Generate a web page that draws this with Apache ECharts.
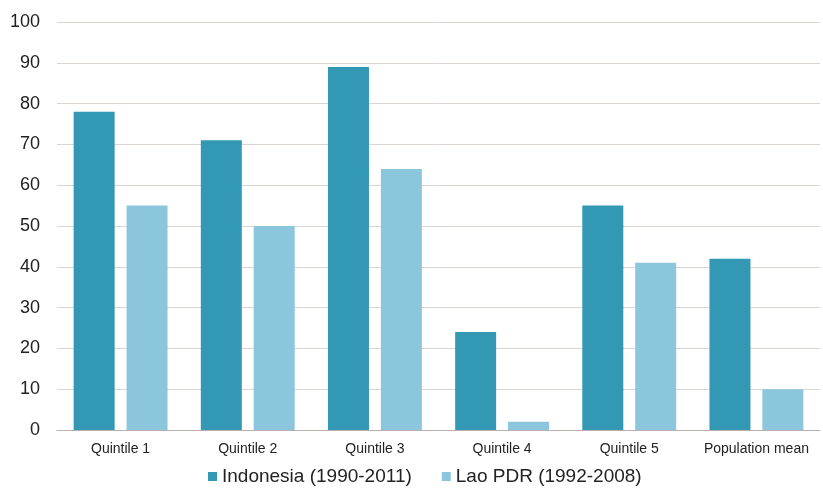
<!DOCTYPE html>
<html>
<head>
<meta charset="utf-8">
<script src="https://cdn.jsdelivr.net/npm/echarts@6/dist/echarts.min.js"></script>
<style>
  html, body { margin: 0; padding: 0; background: #fff; }
  #chart { width: 823px; height: 492px; }
</style>
</head>
<body>
<div id="chart"></div>
<script>
// Quintile groups along the x axis
const categories = ['Quintile 1', 'Quintile 2', 'Quintile 3', 'Quintile 4', 'Quintile 5', 'Population mean'];
// Series values per group
const indonesia = [78, 71, 89, 24, 55, 42];
const lao = [55, 50, 64, 2, 41, 10];
const seriesNames = ['Indonesia (1990-2011)', 'Lao PDR (1992-2008)'];
// Value axis ticks
const yTicks = [0, 10, 20, 30, 40, 50, 60, 70, 80, 90, 100];

const chart = echarts.init(document.getElementById('chart'));
chart.setOption({
  animation: false,
  textStyle: { fontFamily: 'Liberation Sans, Arial, sans-serif' },
  grid: { left: 57, right: 3, top: 22, bottom: 62 },
  legend: {
    bottom: 1,
    left: 203,
    itemWidth: 9,
    itemHeight: 9,
    itemGap: 30,
    icon: 'rect',
    textStyle: { fontSize: 19, color: '#222' },
    data: seriesNames
  },
  xAxis: {
    type: 'category',
    data: categories,
    axisTick: { show: false },
    axisLine: { lineStyle: { color: '#b9b0ad', width: 1 } },
    axisLabel: { fontSize: 14, color: '#222', margin: 12, interval: 0 }
  },
  yAxis: {
    type: 'value',
    min: yTicks[0],
    max: yTicks[yTicks.length - 1],
    interval: 10,
    axisLine: { show: false },
    axisTick: { show: false },
    axisLabel: { fontSize: 18, color: '#222', margin: 17 },
    splitLine: { lineStyle: { color: '#ddd3d0', width: 1 } }
  },
  series: [
    {
      name: seriesNames[0],
      type: 'bar',
      data: indonesia,
      barWidth: 41,
      barGap: '29%',
      itemStyle: { color: '#3398b3' }
    },
    {
      name: seriesNames[1],
      type: 'bar',
      data: lao,
      barWidth: 41,
      itemStyle: { color: '#8cc6dc' }
    }
  ]
});
</script>
</body>
</html>
